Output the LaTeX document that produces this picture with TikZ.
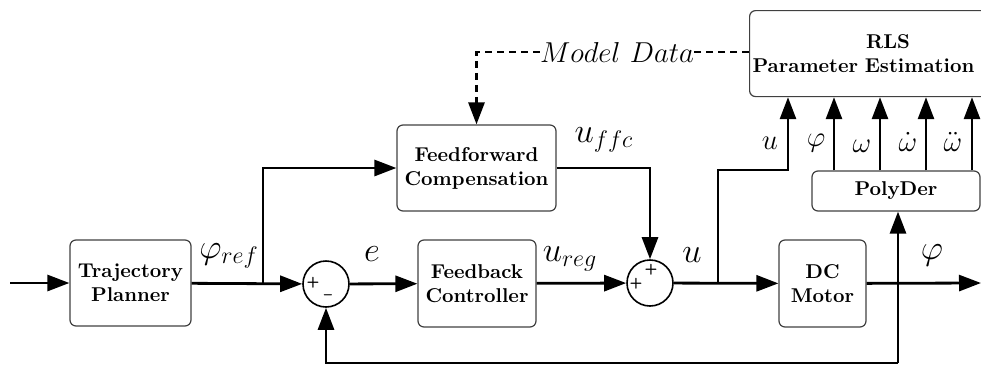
\documentclass[tikz,border=0pt]{standalone}
\usetikzlibrary{arrows.meta}
\begin{document}
\begin{tikzpicture}[x=0.5pt,y=-0.5pt,
  blk/.style={draw=black!75, line width=0.6pt, rounded corners=3pt, font=\bfseries, align=center, inner sep=0pt},
  sumnode/.style={circle, draw, line width=0.8pt, minimum size=23pt, inner sep=0pt},
  sig/.style={line width=1.4pt, -{Triangle[length=11pt,width=8pt]}},
  dsig/.style={sig, dash pattern=on 3.5pt off 2.5pt},
  dwire/.style={line width=1.4pt, dash pattern=on 3.5pt off 2.5pt},
  lbl/.style={font=\LARGE, inner sep=0pt},
  slbl/.style={font=\Large, inner sep=0pt},
  sgn/.style={font=\fontsize{7.5}{8}\selectfont\sffamily\bfseries, inner sep=0pt}]
\useasboundingbox (0,0) rectangle (981,365);
\clip (0,0) rectangle (981,365);

% blocks
\node[blk, minimum width=60.5pt, minimum height=43pt] (tp) at (130.5,283) {Trajectory\\Planner};
\node[blk, minimum width=59pt, minimum height=43.5pt] (fbc) at (477,283.5) {Feedback\\Controller};
\node[blk, minimum width=79.5pt, minimum height=43pt] (ffc) at (476.5,168) {Feedforward\\Compensation};
\node[blk, minimum width=43.5pt, minimum height=43.5pt] (dcm) at (822.5,283.5) {DC\\Motor};
\node[blk, minimum width=84pt, minimum height=20pt] (pd) at (896,191) {PolyDer};
\node[blk, anchor=north west, align=left, text width=140pt, minimum height=43pt, inner xsep=1.5pt] (rls) at (749,10) {\hspace*{56.7pt}RLS\\Parameter Estimation};

% summing junctions
\node[sumnode] (s1) at (326,284) {};
\node[sumnode] (s2) at (650,283) {};
\node[sgn] (s1p) at (313,283) {+};
\node[sgn] (s1m) at (328,297) {--};
\node[sgn] (s2t) at (651,270) {+};
\node[sgn] (s2l) at (636,284) {+};

% branch points and free ends
\coordinate (in) at (10,283);
\coordinate (b1) at (263,283);
\coordinate (b2) at (718,283);
\coordinate (uc) at (788,170);
\coordinate (fb) at (898,363);
\coordinate (out) at (981,283);

% signal flow
\draw[sig] (in) -- (tp);
\draw[sig] (tp) -- (s1);
\draw[sig] (b1) |- (ffc);
\draw[sig] (s1) -- (fbc);
\draw[sig] (fbc) -- (s2);
\draw[sig] (ffc) -| (s2);
\draw[sig] (s2) -- (dcm);
\draw[sig] (b2) |- (uc) -- (uc |- rls.south);
\draw[sig] (dcm) -- (out);
\draw[sig] (fb) -| (s1);
\draw[sig] (fb) -- (fb |- pd.south);
\foreach \x [count=\i] in {834,880,926,972} {
  \coordinate (px\i) at (\x,0);
  \draw[sig] (pd.north -| px\i) -- (rls.south -| px\i);
}

% model data path
\node[slbl] (mdl) at (617,52) {$Model\ Data$};
\draw[dwire] (rls.west |- mdl) -- (mdl.east);
\draw[dsig] (mdl.west) -| (ffc.north);

% signal labels
\node[lbl] (lref) at (229,256) {$\varphi_{ref}$};
\node[lbl] (le) at (372,254) {$e$};
\node[lbl] (lreg) at (570,259) {$u_{reg}$};
\node[lbl] (lffc) at (604,140) {$u_{ffc}$};
\node[lbl] (lu) at (692,255) {$u$};
\node[lbl] (lphi) at (932,255) {$\varphi$};
\node[slbl] (lu2) at (770,143) {$u$};
\node[slbl] (lphi2) at (816,143) {$\varphi$};
\node[slbl] (lw) at (862,146) {$\omega$};
\node[slbl] (lwd) at (908,142) {$\dot\omega$};
\node[slbl] (lwdd) at (953,142) {$\ddot\omega$};
\end{tikzpicture}
\end{document}
